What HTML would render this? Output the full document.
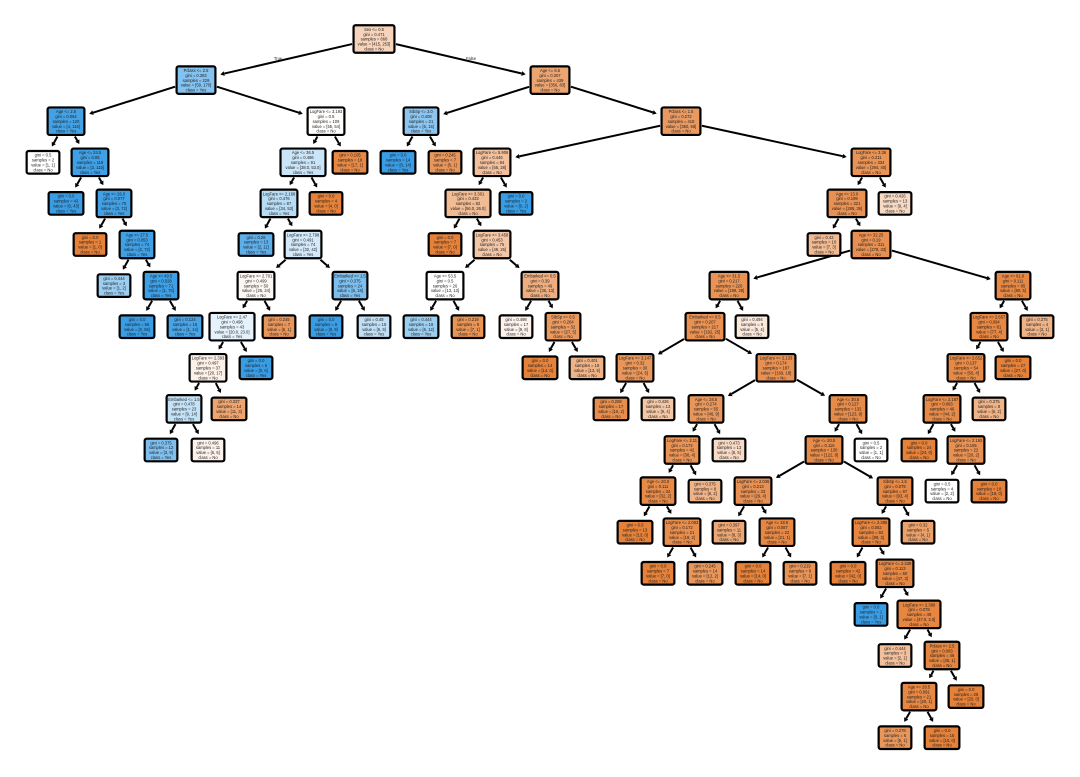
<!DOCTYPE html>
<html><head><meta charset="utf-8"><style>
html,body{margin:0;padding:0;background:#fff;}
svg{display:block;}
text{font-family:"Liberation Sans",sans-serif;}
</style></head><body>
<svg id="s" width="1080" height="777" viewBox="0 0 1080 777" xmlns="http://www.w3.org/2000/svg"></svg>
<script>
var O=[229,129,57],B=[57,157,229];
function col(t,a){var c=t=='o'?O:B;return 'rgb('+c.map(function(v){return Math.round(255+(v-255)*a)}).join(',')+')';}
// id,parent,level,x,type,alpha,lines(sep |)
var N=[
[0,-1,0,374,'o',.35,'Sex <= 0.5|gini = 0.471|samples = 668|value = [415, 253]|class = No'],
[1,0,1,196,'b',.62,'Pclass <= 2.5|gini = 0.383|samples = 229|value = [59, 170]|class = Yes'],
[2,0,1,550,'o',.72,'Age <= 6.5|gini = 0.307|samples = 439|value = [356, 83]|class = No'],
[3,1,2,66,'b',.95,'Age <= 2.5|gini = 0.064|samples = 120|value = [4, 116]|class = Yes'],
[4,1,2,326,'o',.01,'LogFare <= 3.193|gini = 0.5|samples = 109|value = [55, 54]|class = No'],
[5,2,2,421,'b',.58,'SibSp <= 3.0|gini = 0.408|samples = 21|value = [6, 15]|class = Yes'],
[6,2,2,681,'o',.8,'Pclass <= 1.5|gini = 0.272|samples = 418|value = [350, 68]|class = No'],
[7,3,3,43,'o',0,'gini = 0.5|samples = 2|value = [1, 1]|class = No'],
[8,3,3,90,'b',.97,'Age <= 24.5|gini = 0.05|samples = 118|value = [3, 115]|class = Yes'],
[9,4,3,303,'b',.27,'Age <= 36.5|gini = 0.486|samples = 91|value = [38.0, 53.0]|class = Yes'],
[10,4,3,350,'o',.94,'gini = 0.105|samples = 18|value = [17, 1]|class = No'],
[11,5,3,398,'b',1,'gini = 0.0|samples = 14|value = [0, 14]|class = Yes'],
[12,5,3,445,'o',.83,'gini = 0.245|samples = 7|value = [6, 1]|class = No'],
[13,6,3,492,'o',.5,'LogFare <= 5.906|gini = 0.446|samples = 84|value = [56, 28]|class = No'],
[14,6,3,871,'o',.86,'LogFare <= 3.36|gini = 0.211|samples = 334|value = [294, 40]|class = No'],
[15,8,4,66,'b',1,'gini = 0.0|samples = 43|value = [0, 43]|class = Yes'],
[16,8,4,114,'b',.96,'Age <= 26.0|gini = 0.077|samples = 75|value = [3, 72]|class = Yes'],
[17,9,4,279,'b',.36,'LogFare <= 2.168|gini = 0.476|samples = 87|value = [34, 53]|class = Yes'],
[18,9,4,326,'o',1,'gini = 0.0|samples = 4|value = [4, 0]|class = No'],
[19,13,4,468,'o',.54,'LogFare <= 3.301|gini = 0.433|samples = 82|value = [56.0, 26.0]|class = No'],
[20,13,4,516,'b',1,'gini = 0.0|samples = 2|value = [0, 2]|class = Yes'],
[21,14,4,847,'o',.87,'Age <= 13.0|gini = 0.199|samples = 321|value = [285, 36]|class = No'],
[22,14,4,895,'o',.3,'gini = 0.426|samples = 13|value = [9, 4]|class = No'],
[23,16,5,90,'o',1,'gini = 0.0|samples = 1|value = [1, 0]|class = No'],
[24,16,5,137,'b',.97,'Age <= 27.5|gini = 0.053|samples = 74|value = [2, 72]|class = Yes'],
[25,17,5,256,'b',.82,'gini = 0.26|samples = 13|value = [2, 11]|class = Yes'],
[26,17,5,303,'b',.22,'LogFare <= 2.798|gini = 0.491|samples = 74|value = [32, 42]|class = Yes'],
[27,19,5,445,'o',1,'gini = 0.0|samples = 7|value = [7, 0]|class = No'],
[28,19,5,492,'o',.45,'LogFare <= 3.458|gini = 0.453|samples = 75|value = [49, 26]|class = No'],
[29,21,5,824,'o',.55,'gini = 0.42|samples = 10|value = [7, 3]|class = No'],
[30,21,5,871,'o',.88,'Age <= 32.25|gini = 0.19|samples = 311|value = [278, 33]|class = No'],
[31,24,6,114,'b',.5,'gini = 0.444|samples = 3|value = [1, 2]|class = Yes'],
[32,24,6,161,'b',.98,'Age <= 49.5|gini = 0.028|samples = 71|value = [1, 70]|class = Yes'],
[33,26,6,256,'o',.06,'LogFare <= 2.701|gini = 0.499|samples = 50|value = [26, 24]|class = No'],
[34,26,6,350,'b',.66,'Embarked <= 1.5|gini = 0.375|samples = 24|value = [6, 18]|class = Yes'],
[35,28,6,445,'o',0,'Age <= 53.5|gini = 0.5|samples = 26|value = [13, 13]|class = No'],
[36,28,6,540,'o',.64,'Embarked <= 0.5|gini = 0.39|samples = 49|value = [36, 13]|class = No'],
[37,30,6,729,'o',.86,'Age <= 31.5|gini = 0.217|samples = 226|value = [198, 28]|class = No'],
[38,30,6,1013,'o',.94,'Age <= 61.0|gini = 0.111|samples = 85|value = [80, 5]|class = No'],
[39,32,7,137,'b',1,'gini = 0.0|samples = 56|value = [0, 56]|class = Yes'],
[40,32,7,185,'b',.93,'gini = 0.124|samples = 15|value = [1, 14]|class = Yes'],
[41,33,7,232,'b',.13,'LogFare <= 2.47|gini = 0.498|samples = 43|value = [20.0, 23.0]|class = Yes'],
[42,33,7,279,'o',.83,'gini = 0.245|samples = 7|value = [6, 1]|class = No'],
[43,34,7,326,'b',1,'gini = 0.0|samples = 9|value = [0, 9]|class = Yes'],
[44,34,7,374,'b',.33,'gini = 0.48|samples = 15|value = [6, 9]|class = Yes'],
[45,35,7,421,'b',.5,'gini = 0.444|samples = 18|value = [6, 12]|class = Yes'],
[46,35,7,468,'o',.86,'gini = 0.219|samples = 8|value = [7, 1]|class = No'],
[47,36,7,516,'o',.1,'gini = 0.498|samples = 17|value = [9, 8]|class = No'],
[48,36,7,563,'o',.81,'SibSp <= 0.5|gini = 0.264|samples = 32|value = [27, 5]|class = No'],
[49,37,7,705,'o',.87,'Embarked <= 0.5|gini = 0.207|samples = 217|value = [192, 25]|class = No'],
[50,37,7,752,'o',.18,'gini = 0.494|samples = 9|value = [5, 4]|class = No'],
[51,38,7,989,'o',.95,'LogFare <= 2.657|gini = 0.094|samples = 81|value = [77, 4]|class = No'],
[52,38,7,1037,'o',.6,'gini = 0.375|samples = 4|value = [3, 1]|class = No'],
[53,41,8,208,'o',.12,'LogFare <= 2.393|gini = 0.497|samples = 37|value = [20, 17]|class = No'],
[54,41,8,256,'b',1,'gini = 0.0|samples = 6|value = [0, 6]|class = Yes'],
[55,48,8,540,'o',1,'gini = 0.0|samples = 14|value = [14, 0]|class = No'],
[56,48,8,587,'o',.6,'gini = 0.401|samples = 18|value = [13, 5]|class = No'],
[57,49,8,635,'o',.83,'LogFare <= 3.147|gini = 0.32|samples = 30|value = [24, 6]|class = No'],
[58,49,8,776,'o',.88,'LogFare <= 2.133|gini = 0.174|samples = 187|value = [169, 18]|class = No'],
[59,51,8,966,'o',.93,'LogFare <= 2.652|gini = 0.137|samples = 54|value = [50, 4]|class = No'],
[60,51,8,1013,'o',1,'gini = 0.0|samples = 27|value = [27, 0]|class = No'],
[61,53,9,184,'b',.3,'Embarked <= 1.5|gini = 0.478|samples = 23|value = [9, 14]|class = Yes'],
[62,53,9,229,'o',.72,'gini = 0.337|samples = 14|value = [11, 3]|class = No'],
[63,57,9,611,'o',.9,'gini = 0.208|samples = 17|value = [15, 2]|class = No'],
[64,57,9,658,'o',.45,'gini = 0.426|samples = 13|value = [9, 4]|class = No'],
[65,58,9,706,'o',.83,'Age <= 28.5|gini = 0.274|samples = 55|value = [46, 9]|class = No'],
[66,58,9,848,'o',.92,'Age <= 30.5|gini = 0.127|samples = 132|value = [123, 9]|class = No'],
[67,59,9,942,'o',.93,'LogFare <= 2.187|gini = 0.083|samples = 46|value = [44, 2]|class = No'],
[68,59,9,989,'o',.6,'gini = 0.375|samples = 8|value = [6, 2]|class = No'],
[69,61,10,161,'b',.65,'gini = 0.375|samples = 12|value = [3, 9]|class = Yes'],
[70,61,10,208,'o',.1,'gini = 0.496|samples = 11|value = [6, 5]|class = No'],
[71,65,10,682,'o',.86,'LogFare <= 2.11|gini = 0.172|samples = 42|value = [38, 4]|class = No'],
[72,65,10,729,'o',.3,'gini = 0.473|samples = 13|value = [8, 5]|class = No'],
[73,66,10,824,'o',.92,'Age <= 20.5|gini = 0.116|samples = 130|value = [122, 8]|class = No'],
[74,66,10,871,'o',0,'gini = 0.5|samples = 2|value = [1, 1]|class = No'],
[75,67,10,919,'o',1,'gini = 0.0|samples = 24|value = [24, 0]|class = No'],
[76,67,10,966,'o',.88,'LogFare <= 2.192|gini = 0.165|samples = 22|value = [20, 2]|class = No'],
[77,71,11,658,'o',.93,'Age <= 20.0|gini = 0.111|samples = 34|value = [32, 2]|class = No'],
[78,71,11,705,'o',.6,'gini = 0.375|samples = 8|value = [6, 2]|class = No'],
[79,73,11,753,'o',.88,'LogFare <= 2.036|gini = 0.213|samples = 33|value = [29, 4]|class = No'],
[80,73,11,895,'o',.95,'SibSp <= 1.5|gini = 0.079|samples = 97|value = [93, 4]|class = No'],
[81,76,11,942,'o',0,'gini = 0.5|samples = 4|value = [2, 2]|class = No'],
[82,76,11,989,'o',1,'gini = 0.0|samples = 18|value = [18, 0]|class = No'],
[83,77,12,635,'o',1,'gini = 0.0|samples = 13|value = [13, 0]|class = No'],
[84,77,12,682,'o',.9,'LogFare <= 2.083|gini = 0.172|samples = 21|value = [19, 2]|class = No'],
[85,79,12,729,'o',.7,'gini = 0.397|samples = 11|value = [8, 3]|class = No'],
[86,79,12,777,'o',.95,'Age <= 18.5|gini = 0.087|samples = 22|value = [21, 1]|class = No'],
[87,80,12,871,'o',.96,'LogFare <= 2.385|gini = 0.062|samples = 92|value = [89, 3]|class = No'],
[88,80,12,918,'o',.75,'gini = 0.32|samples = 5|value = [4, 1]|class = No'],
[89,84,13,658,'o',1,'gini = 0.0|samples = 7|value = [7, 0]|class = No'],
[90,84,13,705,'o',.83,'gini = 0.245|samples = 14|value = [12, 2]|class = No'],
[91,86,13,753,'o',1,'gini = 0.0|samples = 14|value = [14, 0]|class = No'],
[92,86,13,800,'o',.86,'gini = 0.219|samples = 8|value = [7, 1]|class = No'],
[93,87,13,848,'o',1,'gini = 0.0|samples = 42|value = [42, 0]|class = No'],
[94,87,13,895,'o',.95,'LogFare <= 2.339|gini = 0.113|samples = 50|value = [47, 3]|class = No'],
[95,94,14,871,'b',1,'gini = 0.0|samples = 1|value = [0, 1]|class = Yes'],
[96,94,14,919,'o',.96,'LogFare <= 2.389|gini = 0.078|samples = 49|value = [47.0, 2.0]|class = No'],
[97,96,15,895,'o',.5,'gini = 0.444|samples = 3|value = [2, 1]|class = No'],
[98,96,15,942,'o',.97,'Pclass <= 2.5|gini = 0.083|samples = 46|value = [45, 1]|class = No'],
[99,98,16,919,'o',.95,'Age <= 28.5|gini = 0.091|samples = 21|value = [20, 1]|class = No'],
[100,98,16,966,'o',1,'gini = 0.0|samples = 25|value = [25, 0]|class = No'],
[101,99,17,895,'o',.83,'gini = 0.278|samples = 6|value = [5, 1]|class = No'],
[102,99,17,942,'o',1,'gini = 0.0|samples = 15|value = [15, 0]|class = No']
];
var s=document.getElementById('s'),ns='http://www.w3.org/2000/svg';
var G={};
N.forEach(function(n){
  var L=n[6].split('|'),m=0;L.forEach(function(l){m=Math.max(m,l.length)});
  var w=Math.max(32,m*2.05+4),h=L.length*4.9+3;
  G[n[0]]={x:n[3],y:39+41.1*n[2],w:w,h:h,L:L,c:col(n[4],n[5]),p:n[1]};
});
function el(t,a,par){var e=document.createElementNS(ns,t);for(var k in a)e.setAttribute(k,a[k]);(par||s).appendChild(e);return e;}
function clip(b,dx,dy){var hw=b.w/2+1.5,hh=b.h/2+1.5;var t=Math.min(dx?hw/Math.abs(dx):1e9,dy?hh/Math.abs(dy):1e9);return t;}
var eg=el('g',{}),bg=el('g',{});
N.forEach(function(n){
  var c=G[n[0]];if(c.p<0)return;var p=G[c.p];
  var dx=c.x-p.x,dy=c.y-p.y,len=Math.sqrt(dx*dx+dy*dy),ux=dx/len,uy=dy/len;
  var t1=clip(p,dx,dy),t2=clip(c,dx,dy);
  var sx=p.x+dx*t1,sy=p.y+dy*t1;
  var ex=c.x-dx*t2-ux*3.5,ey=c.y-dy*t2-uy*3.5;
  var bx=ex-ux*4,by=ey-uy*4;
  el('line',{x1:sx,y1:sy,x2:bx,y2:by,stroke:'#000','stroke-width':2},eg);
  var px=-uy,py=ux;
  el('polygon',{points:ex+','+ey+' '+(bx+px*2.4)+','+(by+py*2.4)+' '+(bx-px*2.4)+','+(by-py*2.4),fill:'#000'},eg);
});
N.forEach(function(n){
  var c=G[n[0]];
  el('rect',{x:c.x-c.w/2,y:c.y-c.h/2,width:c.w,height:c.h,rx:2,ry:2,fill:c.c,stroke:'#000','stroke-width':2.2},bg);
  var t=el('text',{x:c.x,y:c.y-c.h/2+5.6,'font-size':4.1,'text-anchor':'middle',fill:'#222'},bg);
  c.L.forEach(function(l,i){var sp=el('tspan',{x:c.x,dy:i?4.9:0},t);sp.textContent=l;});
});
var t1=el('text',{x:278,y:60,'font-size':4.1,'text-anchor':'middle',fill:'#222'});t1.textContent='True';
var t2=el('text',{x:471,y:60,'font-size':4.1,'text-anchor':'middle',fill:'#222'});t2.textContent='False';
</script>
</body></html>
